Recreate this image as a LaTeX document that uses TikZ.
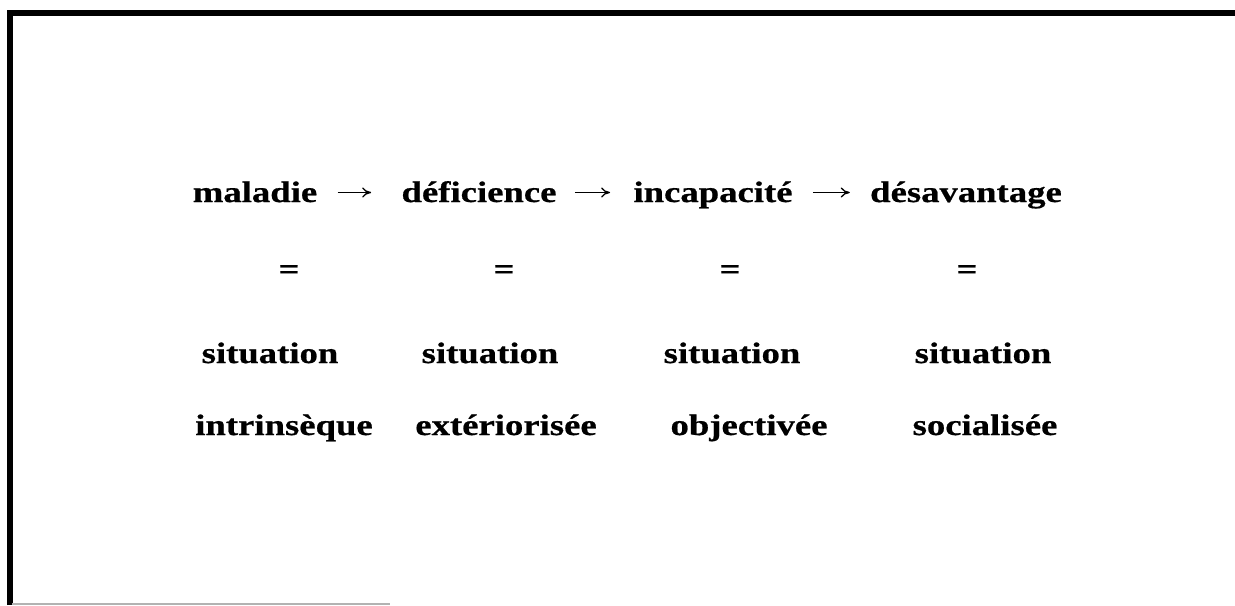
\documentclass[tikz,border=0pt]{standalone}
\usepackage{fontspec}
\setmainfont[FakeStretch=1.24,FakeBold=0.6]{Liberation Serif}
\usepackage{tikz}
\usetikzlibrary{arrows.meta}

\begin{document}
\begin{tikzpicture}[
  x=0.5pt, y=-0.5pt,
  every node/.style={inner sep=0pt, anchor=base, font=\fontsize{14.8pt}{18pt}\selectfont\bfseries, text height=11.5pt, text depth=2pt},
  arr/.style={line width=0.65pt, -{To[length=4.5pt,width=5pt]}}
]
\useasboundingbox (0,0) rectangle (1235,605);

% frame
\draw[line width=3pt] (10,605) -- (10,13) -- (1235,13);
\draw[gray!60, line width=0.7pt] (12,604) -- (390,604);

% first row
\node (maladie) at (255,202) {maladie};
\node (deficience) at (479,202) {déficience};
\node (incapacite) at (713,202) {incapacité};
\node (desavantage) at (966,202) {désavantage};

% equals
\node (eq1) at (289,279) {=};
\node (eq2) at (504,279) {=};
\node (eq3) at (730,279) {=};
\node (eq4) at (967,279) {=};

% situation
\node (sit1) at (270,363) {situation};
\node (sit2) at (490,363) {situation};
\node (sit3) at (732,363) {situation};
\node (sit4) at (983,363) {situation};

% last row
\node (intrinseque) at (284,435) {intrinsèque};
\node (exteriorisee) at (506,435) {extériorisée};
\node (objectivee) at (749,435) {objectivée};
\node (socialisee) at (985,435) {socialisée};

% arrows
\draw[arr, shorten <=10pt, shorten >=15pt] (maladie) -- (deficience);
\draw[arr, shorten <=9pt, shorten >=11.5pt] (deficience) -- (incapacite);
\draw[arr, shorten <=10pt, shorten >=10pt] (incapacite) -- (desavantage);

\end{tikzpicture}
\end{document}
